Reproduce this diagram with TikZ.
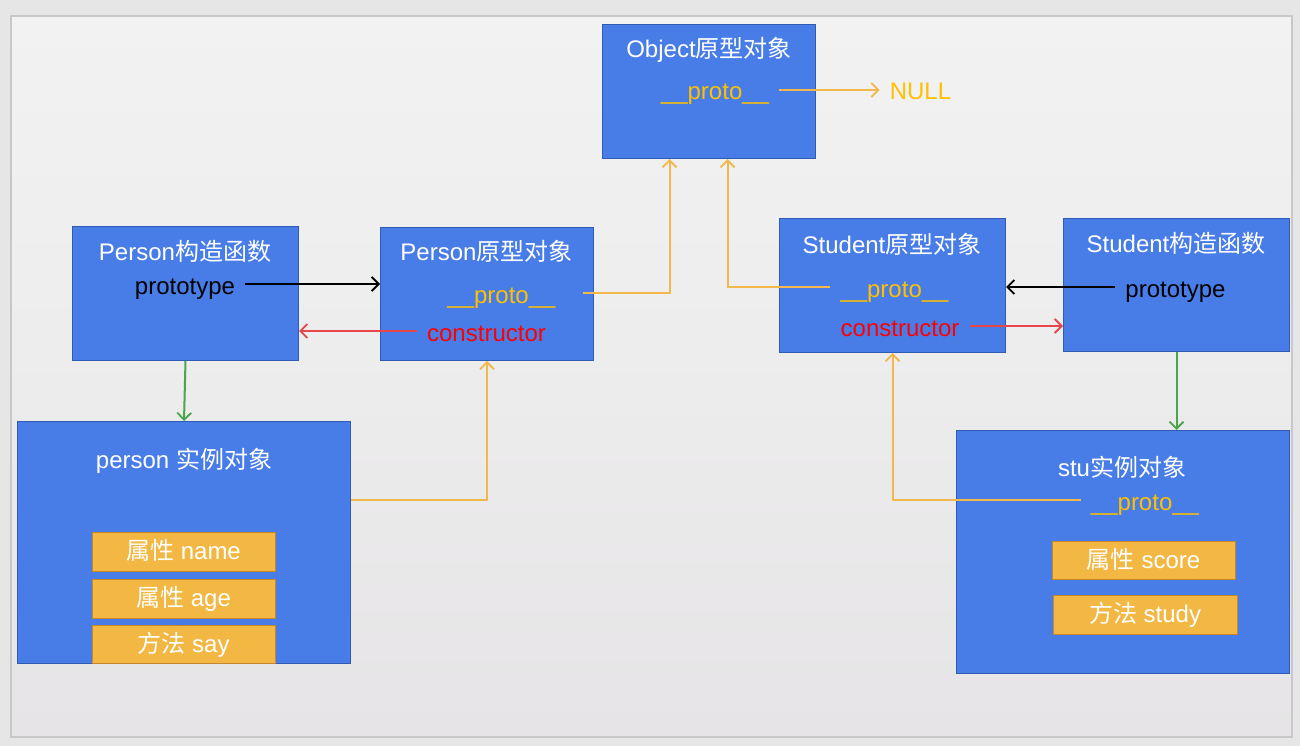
\documentclass[tikz,border=0pt]{standalone}
\usepackage{fontspec}
\setmainfont{Liberation Sans}
\newfontfamily\cjk{Noto Sans CJK SC}
\usetikzlibrary{arrows.meta,positioning}
\definecolor{pagebg}{HTML}{E6E6E6}
\definecolor{frame}{HTML}{C8C8C8}
\definecolor{shadetop}{HTML}{F2F2F2}
\definecolor{shadebot}{HTML}{E6E4E6}
\definecolor{boxblue}{HTML}{487DE8}
\definecolor{boxedge}{HTML}{2F5BB5}
\definecolor{itemfill}{HTML}{F2B843}
\definecolor{itemedge}{HTML}{C8862B}
\definecolor{protoorg}{HTML}{FFC000}
\definecolor{lineorg}{HTML}{F2B84B}
\definecolor{consred}{HTML}{FF0000}
\definecolor{linered}{HTML}{E8474A}
\definecolor{linegreen}{HTML}{4AA64A}
\tikzset{
  box/.style={draw=boxedge,line width=1pt,fill=boxblue,anchor=north west,inner sep=0pt},
  item/.style={draw=itemedge,line width=1pt,fill=itemfill,text=white,font=\fontsize{24pt}{28pt}\selectfont,
    minimum width=183pt,minimum height=38pt,inner sep=0pt,text height=19pt,text depth=3pt},
  lbl/.style={font=\fontsize{24pt}{28pt}\selectfont,inner xsep=10pt,inner ysep=0pt,text height=21pt,text depth=1pt},
  ttl/.style={lbl,text=white},
  ptxt/.style={lbl,text=protoorg},
  ar/.style={-{Straight Barb[length=7pt,width=14pt,line width=1.8pt]},line width=2pt},
  oar/.style={ar,draw=lineorg},
  kar/.style={ar,draw=black},
  rar/.style={ar,draw=linered},
  gar/.style={ar,draw=linegreen},
}

\begin{document}
\begin{tikzpicture}[x=1pt,y=-1pt]
  \useasboundingbox (0,0) rectangle (1300,746);
  \fill[pagebg] (0,0) rectangle (1300,746);
  \draw[frame,line width=1.5pt,top color=shadetop,bottom color=shadebot,middle color=shadetop!60!shadebot] (11,16) rectangle (1292,737);

  % boxes
  \node[box,minimum width=213pt,minimum height=134pt] (obj) at (602,24) {};
  \node[box,minimum width=226pt,minimum height=134pt] (pctor) at (72,226) {};
  \node[box,minimum width=213pt,minimum height=133pt] (pproto) at (380,227) {};
  \node[box,minimum width=226pt,minimum height=134pt] (sproto) at (779,218) {};
  \node[box,minimum width=226pt,minimum height=133pt] (sctor) at (1063,218) {};
  \node[box,minimum width=333pt,minimum height=242pt] (pinst) at (17,421) {};
  \node[box,minimum width=333pt,minimum height=243pt] (sinst) at (956,430) {};

  % texts
  \node[ttl] (objt) at (709,48) {Object{\cjk 原型对象}};
  \node[ptxt] (objp) at (715,90) {\_\_proto\_\_};
  \node[ptxt] (null) at (920.5,90) {NULL};
  \node[ttl] (pctort) at (185,250) {Person{\cjk 构造函数}};
  \node[lbl] (ptype) at (185,284) {prototype};
  \node[ttl] (pprotot) at (486.5,250) {Person{\cjk 原型对象}};
  \node[ptxt] (ppp) at (501.5,293) {\_\_proto\_\_};
  \node[lbl,text=consred] (pcons) at (486.5,331) {constructor};
  \node[ttl] (sprotot) at (892,243) {Student{\cjk 原型对象}};
  \node[ptxt] (spp) at (894.5,287) {\_\_proto\_\_};
  \node[lbl,text=consred] (scons) at (900,326) {constructor};
  \node[ttl] (sctort) at (1176,242) {Student{\cjk 构造函数}};
  \node[lbl] (stype) at (1175.5,287) {prototype};
  \node[ttl] (pinstt) at (184,458) {person {\cjk 实例对象}};
  \node[ttl] (sinstt) at (1122,466) {stu{\cjk 实例对象}};
  \node[ptxt] (stup) at (1145,500) {\_\_proto\_\_};

  % members
  \node[item,minimum height=39pt] (pname) at (183.5,551.5) {{\cjk 属性} name};
  \node[item,minimum height=39pt] (page) at (183.5,598.5) {{\cjk 属性} age};
  \node[item] (psay) at (183.5,644) {{\cjk 方法} say};
  \node[item] (sscore) at (1143.5,560) {{\cjk 属性} score};
  \node[item,minimum width=184pt,minimum height=39pt] (sstudy) at (1145,614.5) {{\cjk 方法} study};

  % links
  \coordinate (objin1) at ([xshift=-39.5pt]obj.south);
  \coordinate (objin2) at ([xshift=18.5pt]obj.south);
  \draw[oar] (objp.east) -- (null.west);
  \draw[kar] (ptype.east) -- (ptype.east -| pproto.west);
  \draw[rar] (pcons.west) -- (pcons.west -| pctor.east);
  \draw[oar] ([xshift=17pt]ppp.east) -| (objin1);
  \draw[oar] ([yshift=43pt]pinst.east) -| (pproto.south);
  \draw[gar] (pctor.south) -- (pinst.north);
  \draw[oar] (spp.west) -| (objin2);
  \draw[rar] (scons.east) -- (scons.east -| sctor.west);
  \draw[kar] (stype.west) -- (stype.west -| sproto.east);
  \draw[gar] (sctor.south) -- (sctor.south |- sinst.north);
  \draw[oar] (stup.west) -| (sproto.south);
\end{tikzpicture}
\end{document}
